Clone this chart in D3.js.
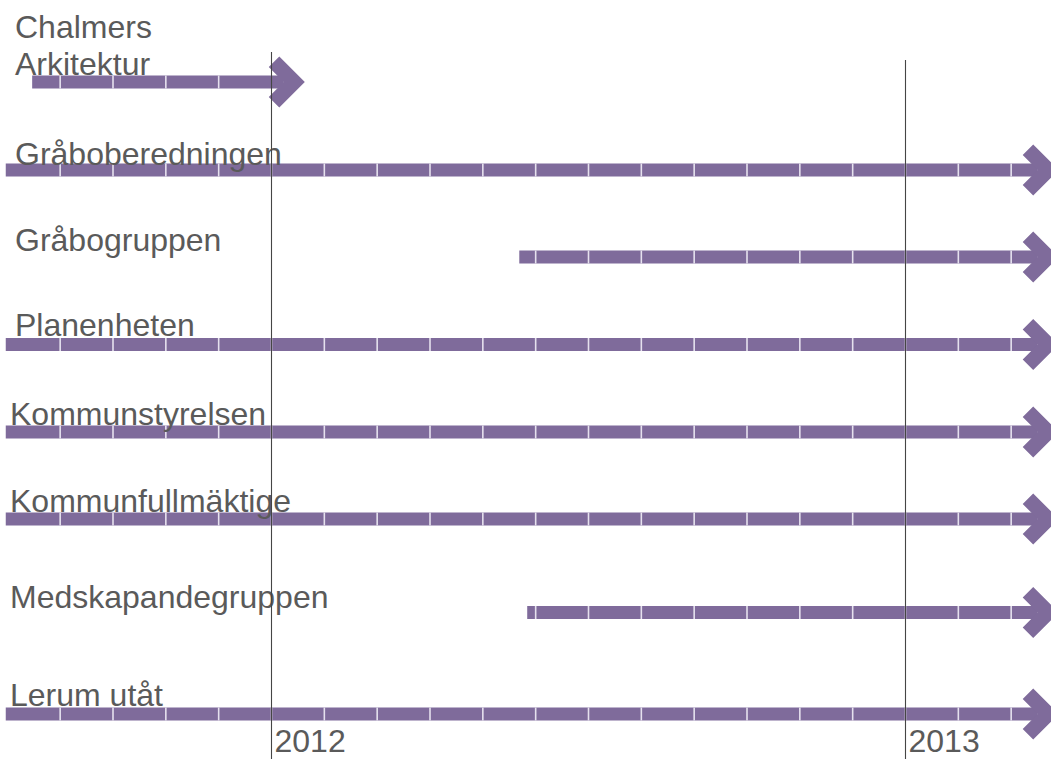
<!DOCTYPE html>
<html><head><meta charset="utf-8">
<script src="https://cdn.jsdelivr.net/npm/d3@7"></script>
<style>body{margin:0;background:#fff}svg{display:block}</style>
</head><body>
<script>
// Data: months relative to January 2012 (0 = Jan 2012, 12 = Jan 2013)
const categories = ["Chalmers\nArkitektur","Gråboberedningen","Gråbogruppen","Planenheten","Kommunstyrelsen","Kommunfullmäktige","Medskapandegruppen","Lerum utåt"];
const startMonths = [-4.53, -5.03, 4.69, -5.03, -5.03, -5.03, 4.84, -5.03];
const endMonths   = [0.63, 14.9, 14.9, 14.9, 14.9, 14.9, 14.9, 14.9];
const yearLabels = ["2012","2013"];
const yearMonths = [0, 12];

const W = 1051, H = 759;
const svg = d3.select("body").append("svg").attr("width", W).attr("height", H);

const x = d3.scaleLinear().domain([0, 12]).range([271.5, 905.5]);
const rowY = [82, 170, 257, 344.5, 432, 519, 612.5, 714];
const labelX = [15, 15, 15, 15, 10, 10, 10, 10];
const labelBase = [[38, 75], [165], [251], [336], [425], [512], [608], [706]];
const y = i => rowY[i];

const barColor = "#7f6b9b";
const shaftH = 13;

const rows = categories.map((c, i) => ({c, i, s: startMonths[i], e: endMonths[i]}));

const gBars = svg.append("g");
rows.forEach(r => {
  const xs = x(r.s), xe = x(r.e), cy = y(r.i);
  gBars.append("rect").attr("x", xs).attr("y", cy - shaftH/2)
    .attr("width", (xe - 21) - xs).attr("height", shaftH).attr("fill", barColor);
  const pts = [[xe-36, cy-15],[xe-25.5, cy-25.5],[xe, cy],[xe-25.5, cy+25.5],[xe-36, cy+15],[xe-21, cy]];
  gBars.append("polygon").attr("points", pts.map(p => p.join(",")).join(" ")).attr("fill", barColor);
  const months = d3.range(Math.ceil(r.s), Math.floor(r.e) + 1)
    .filter(m => x(m) > xs + 2 && x(m) < xe - 37);
  gBars.selectAll(null).data(months).enter().append("line")
    .attr("x1", d => x(d)).attr("x2", d => x(d))
    .attr("y1", cy - shaftH/2).attr("y2", cy + shaftH/2)
    .attr("stroke", "#e6e1ee").attr("stroke-width", 1.6);
});

const gText = svg.append("g").attr("font-family", "'Liberation Sans', Arial, sans-serif")
  .attr("font-size", 32).attr("fill", "#5a5a5a");
rows.forEach(r => {
  r.c.split("\n").forEach((ln, k) => {
    gText.append("text").attr("x", labelX[r.i]).attr("y", labelBase[r.i][k]).text(ln);
  });
});

const lineTop = [52, 60];
yearMonths.forEach((m, k) => {
  svg.append("line").attr("x1", x(m)).attr("x2", x(m)).attr("y1", lineTop[k]).attr("y2", H)
    .attr("stroke", "#454545").attr("stroke-width", 1.1);
  gText.append("text").attr("x", x(m) + 3).attr("y", 752).text(yearLabels[k]);
});
</script>
</body></html>
